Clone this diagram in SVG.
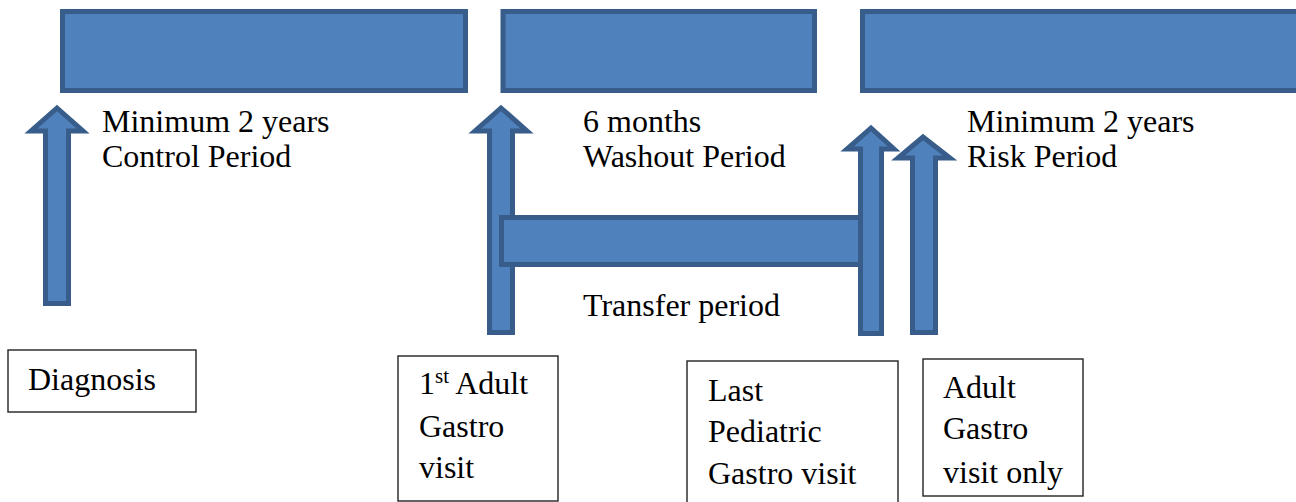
<svg xmlns="http://www.w3.org/2000/svg" width="1296" height="502" viewBox="0 0 1296 502">
<style>
.bar{fill:#4F81BD;stroke:#385D8A;stroke-width:5}
.arr{fill:#4F81BD;stroke:#385D8A;stroke-width:5;stroke-linejoin:miter}
.box{fill:#FFFFFF;stroke:#222222;stroke-width:1.4}
.t{font-family:'Liberation Serif','Times New Roman','DejaVu Serif',serif;font-size:32px;fill:#000000}
</style>
<rect x="0" y="0" width="1296" height="502" fill="#FFFFFF"/>
<g id="control-period">
<rect class="bar" x="62.5" y="11.5" width="403" height="79"/>
<text class="t" x="102" y="132">Minimum 2 years</text>
<text class="t" x="102" y="167">Control Period</text>
</g>
<g id="washout-period">
<rect class="bar" x="503" y="11.5" width="311.5" height="79"/>
<text class="t" x="583" y="132">6 months</text>
<text class="t" x="583" y="167">Washout Period</text>
</g>
<g id="risk-period">
<rect class="bar" x="862.5" y="11.5" width="500" height="79"/>
<text class="t" x="967" y="132">Minimum 2 years</text>
<text class="t" x="967" y="167">Risk Period</text>
</g>
<g id="connectors">
<polygon id="arrow-diagnosis" class="arr" points="57,108 83,131 68.5,131 68.5,303.5 45.5,303.5 45.5,131 31,131"/>
<polygon id="arrow-first-adult" class="arr" points="501,108 527,131 512.5,131 512.5,332.5 489.5,332.5 489.5,131 475,131"/>
</g>
<g id="transfer-period">
<rect class="bar" x="501.5" y="217.5" width="360" height="47"/>
<text class="t" x="583" y="316">Transfer period</text>
</g>
<g id="connectors-2">
<polygon id="arrow-last-pediatric" class="arr" points="871,128 894,149 881.5,149 881.5,333.5 860.5,333.5 860.5,149 847,149"/>
<polygon id="arrow-adult-only" class="arr" points="923,137 950,158 935.5,158 935.5,332.5 912.5,332.5 912.5,158 898,158"/>
</g>
<g id="diagnosis">
<rect class="box" x="8" y="350" width="188" height="62"/>
<text class="t" x="28" y="390">Diagnosis</text>
</g>
<g id="first-adult-visit">
<rect class="box" x="398" y="356" width="160" height="145"/>
<text class="t" x="419" y="394">1<tspan font-size="21" dy="-11">st</tspan><tspan dy="11"> Adult</tspan></text>
<text class="t" x="419" y="437">Gastro</text>
<text class="t" x="419" y="478">visit</text>
</g>
<g id="last-pediatric-visit">
<rect class="box" x="687" y="361" width="211" height="150"/>
<text class="t" x="708" y="401">Last</text>
<text class="t" x="708" y="442">Pediatric</text>
<text class="t" x="708" y="484">Gastro visit</text>
</g>
<g id="adult-visit-only">
<rect class="box" x="923" y="359" width="160" height="137"/>
<text class="t" x="943" y="398">Adult</text>
<text class="t" x="943" y="439">Gastro</text>
<text class="t" x="943" y="483">visit only</text>
</g>
</svg>
